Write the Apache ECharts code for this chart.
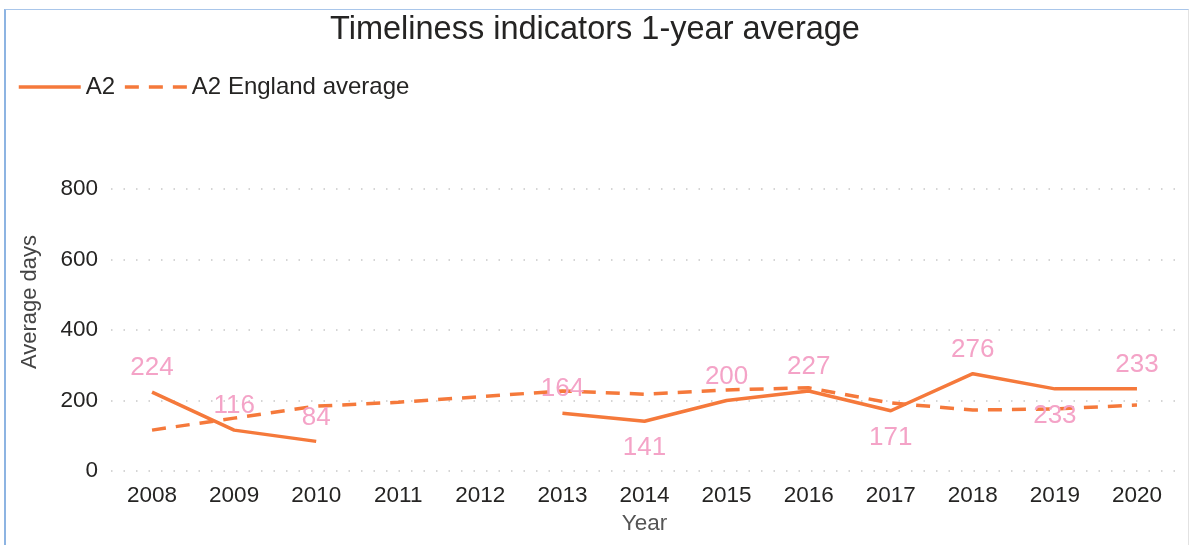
<!DOCTYPE html>
<html>
<head>
    <meta charset="utf-8">
    <title>Timeliness indicators 1-year average</title>
    <script src="https://cdn.jsdelivr.net/npm/echarts@6/dist/echarts.min.js"></script>
    <style>
        body { margin: 0; background: #fff; }
        #frame {
            position: absolute; left: 4px; top: 9px; width: 1182px; height: 560px;
            border-left: 2px solid #8db4e2; border-top: 1px solid #a9c6ea; border-right: 1px solid #e2e2e2;
        }
        #main { position: absolute; left: 0; top: 0; width: 1190px; height: 545px; }
    </style>
</head>
<body>
    <div id="frame"></div>
    <div id="main"></div>
    <script>
        // data
        var years = ['2008', '2009', '2010', '2011', '2012', '2013', '2014', '2015', '2016', '2017', '2018', '2019', '2020'];
        var a2 = [224, 116, 84, null, null, 164, 141, 200, 227, 171, 276, 233, 233];
        var england = [116, 150, 184, 195, 211, 227, 218, 230, 236, 193, 173, 176, 187];
        var yTicks = [0, 200, 400, 600, 800];

        // labels that sit under the line
        var below = { '2014': 1, '2017': 1, '2019': 1 };

        var orange = '#f5793b';
        var a2Data = a2.map(function (v, i) {
            var under = below[years[i]];
            return {
                value: v,
                label: { position: under ? 'bottom' : 'top', distance: under ? 14 : 11 }
            };
        });

        var myChart = echarts.init(document.getElementById('main'));
        var option = {
            animation: false,
            textStyle: { fontFamily: 'Liberation Sans, Arial, sans-serif' },
            title: {
                text: 'Timeliness indicators 1-year average',
                left: 'center',
                top: 9,
                textStyle: { fontSize: 32.5, fontWeight: 'normal', color: '#252423' }
            },
            legend: {
                left: 12,
                top: 70,
                itemWidth: 62,
                itemHeight: 12,
                itemGap: 8,
                itemStyle: { opacity: 0 },
                lineStyle: { width: 3.5 },
                textStyle: { fontSize: 24, color: '#252423' },
                data: ['A2', 'A2 England average']
            },
            grid: { left: 111, right: 12, top: 189, bottom: 74 },
            xAxis: {
                type: 'category',
                data: years,
                name: 'Year',
                nameLocation: 'middle',
                nameGap: 41,
                nameTextStyle: { fontSize: 22.5, color: '#555' },
                axisLine: { show: false },
                axisTick: { show: false },
                axisLabel: { fontSize: 22.5, color: '#252423', margin: 13 }
            },
            yAxis: {
                type: 'value',
                min: yTicks[0],
                max: yTicks[yTicks.length - 1],
                interval: 200,
                name: 'Average days',
                nameLocation: 'middle',
                nameGap: 70,
                nameTextStyle: { fontSize: 22, color: '#444', padding: [0, 0, 0, 56] },
                axisLine: { show: false },
                axisTick: { show: false },
                axisLabel: { fontSize: 22.5, color: '#252423', margin: 13 },
                splitLine: { lineStyle: { color: '#c8c8c8', width: 1.5, type: [1.5, 11] } }
            },
            series: [{
                name: 'A2',
                type: 'line',
                data: a2Data,
                symbol: 'circle',
                symbolSize: 0,
                itemStyle: { color: orange },
                lineStyle: { color: orange, width: 3.5 },
                label: { show: true, fontSize: 26, color: '#f4a3c7' },
                z: 3
            }, {
                name: 'A2 England average',
                type: 'line',
                data: england,
                symbol: 'circle',
                symbolSize: 0,
                itemStyle: { color: orange },
                lineStyle: { color: orange, width: 3.5, type: [14, 10] },
                z: 2
            }]
        };
        myChart.setOption(option);
    </script>
</body>
</html>
